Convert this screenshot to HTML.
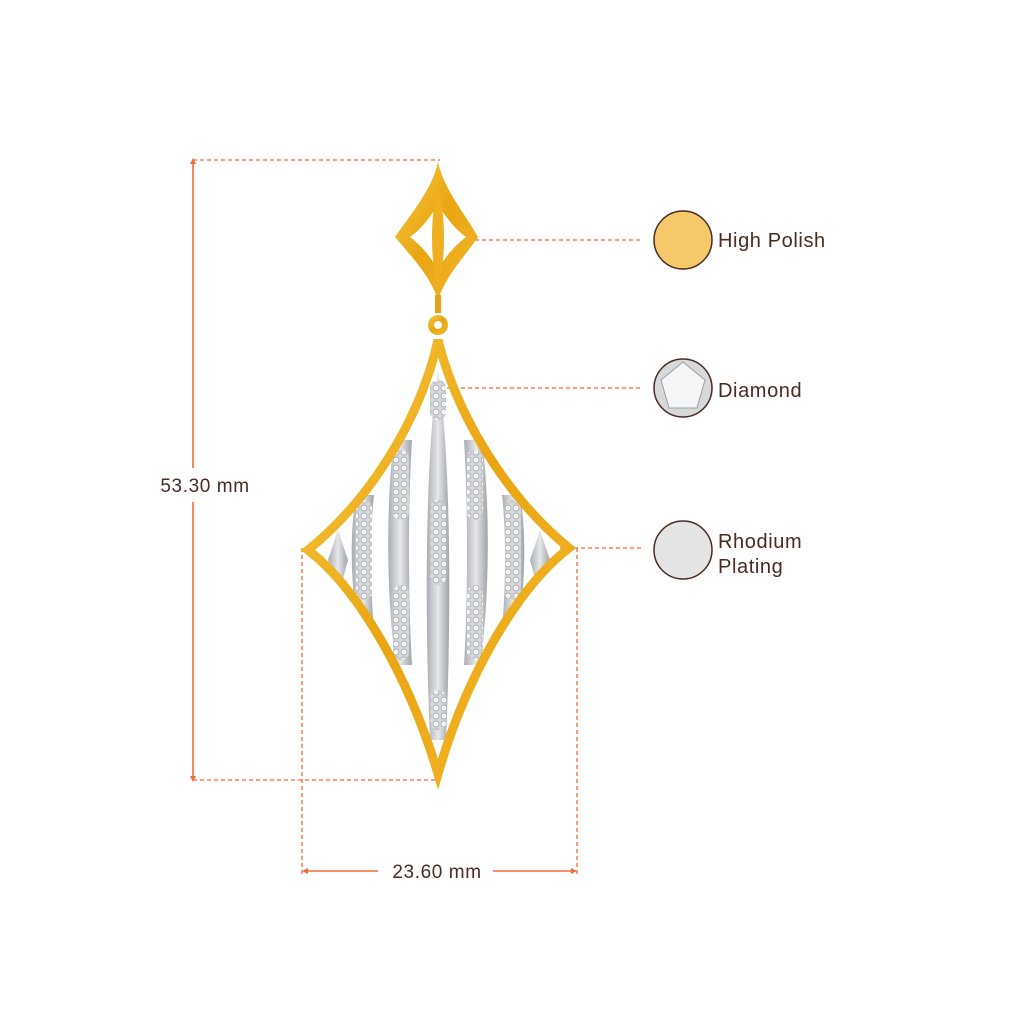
<!DOCTYPE html>
<html><head><style>
body{margin:0;background:#fff;}
svg{display:block}
text{font-family:"Liberation Sans",sans-serif;fill:#4a2a22;letter-spacing:0.6px}
</style></head><body>
<svg width="1024" height="1024" viewBox="0 0 1024 1024">
<defs>
<linearGradient id="g" x1="0" y1="0" x2="1" y2="1">
<stop offset="0" stop-color="#f7c940"/><stop offset="0.5" stop-color="#e9a512"/><stop offset="1" stop-color="#f4b82a"/>
</linearGradient>
<linearGradient id="s" x1="0" y1="0" x2="1" y2="0">
<stop offset="0" stop-color="#a9adb2"/><stop offset="0.5" stop-color="#e6e8ea"/><stop offset="1" stop-color="#9ea3a8"/>
</linearGradient>
<pattern id="d" width="8" height="8" patternUnits="userSpaceOnUse">
<rect width="8" height="8" fill="#d5d8db"/><circle cx="4" cy="4" r="3" fill="#f2f3f4" stroke="#9aa0a6" stroke-width="0.7"/>
</pattern>
<clipPath id="c"><path d="M438 340 C420 420 370 500 308 550 C360 590 410 680 438 774 C465 680 515 590 569 548 C510 500 458 420 438 340Z"/></clipPath>
</defs>
<!-- dimension lines -->
<g stroke="#f26b3a" stroke-width="1.3" fill="none" stroke-dasharray="4,3">
<line x1="193" y1="160" x2="440" y2="160"/>
<line x1="193" y1="780" x2="440" y2="780"/>
<line x1="302" y1="548" x2="302" y2="875"/>
<line x1="577" y1="548" x2="577" y2="875"/>
<line x1="440" y1="240" x2="643" y2="240"/>
<line x1="440" y1="388" x2="643" y2="388"/>
<line x1="560" y1="548" x2="643" y2="548"/>
</g>
<g stroke="#f26b3a" stroke-width="1.6">
<line x1="193" y1="162" x2="193" y2="468"/>
<line x1="193" y1="502" x2="193" y2="778"/>
<line x1="304" y1="871" x2="378" y2="871"/>
<line x1="493" y1="871" x2="575" y2="871"/>
</g>
<g fill="#f26b3a">
<path d="M193 158 l-3 6 h6z"/><path d="M193 782 l-3 -6 h6z"/>
<path d="M302 871 l6 -3 v6z"/><path d="M577 871 l-6 -3 v6z"/>
</g>
<text x="205" y="492" font-size="19" text-anchor="middle">53.30 mm</text>
<text x="437" y="878" font-size="19" text-anchor="middle">23.60 mm</text>
<!-- top piece -->
<path d="M438 162 C432 190 410 215 395 237 C410 255 430 275 438 300 C446 275 466 255 478 237 C466 215 444 190 438 162Z" fill="url(#g)"/>
<path d="M438 205 C428 220 420 230 410 237 C420 245 430 255 438 270 C446 255 456 245 466 237 C456 230 448 220 438 205Z" fill="#fff"/>
<path d="M438 185 C430 215 430 260 438 290 C446 260 446 215 438 185Z" fill="#eeb020"/>
<rect x="435" y="295" width="6" height="18" fill="#e3a316"/>
<circle cx="438" cy="325" r="10" fill="url(#g)"/><circle cx="438" cy="325" r="4" fill="#fff"/>
<g clip-path="url(#c)">
<g fill="url(#s)">
<path d="M438 370 C426 450 424 600 430 740 L446 740 C452 600 450 450 438 370Z"/>
<path d="M394 440 C386 500 386 600 396 665 L412 665 C408 600 408 500 412 440Z"/>
<path d="M482 440 C490 500 490 600 480 665 L464 665 C468 600 468 500 464 440Z"/>
<path d="M356 495 C350 530 350 580 358 632 L374 632 C370 580 370 530 374 495Z"/>
<path d="M520 495 C526 530 526 580 518 632 L502 632 C506 580 506 530 502 495Z"/>
<path d="M338 530 L328 560 L340 590 L348 560Z"/>
<path d="M540 530 L550 560 L538 590 L530 560Z"/>
</g>
<g fill="url(#d)">
<rect x="430" y="380" width="16" height="40" rx="8"/>
<rect x="430" y="500" width="16" height="85" rx="8"/>
<rect x="430" y="690" width="16" height="40" rx="8"/>
<rect x="393" y="450" width="16" height="70" rx="8"/>
<rect x="393" y="585" width="16" height="75" rx="8"/>
<rect x="467" y="450" width="16" height="70" rx="8"/>
<rect x="467" y="585" width="16" height="75" rx="8"/>
<rect x="356" y="500" width="16" height="100" rx="8"/>
<rect x="505" y="500" width="16" height="100" rx="8"/>
</g>
</g>
<!-- frame -->
<path d="M438 340 C420 420 370 500 308 550 C360 590 410 680 438 774 C465 680 515 590 569 548 C510 500 458 420 438 340Z" fill="none" stroke="url(#g)" stroke-width="9" stroke-linejoin="miter"/>
<!-- legend -->
<circle cx="683" cy="240" r="29" fill="#f5c96a" stroke="#4a2a22" stroke-width="1.5"/>
<circle cx="683" cy="388" r="29" fill="#d6d8da" stroke="#4a2a22" stroke-width="1.5"/>
<path d="M683 362 L705 380 L697 408 L669 408 L661 380Z" fill="#f4f5f6" stroke="#9a9ea2" stroke-width="1"/>
<circle cx="683" cy="550" r="29" fill="#e4e4e4" stroke="#4a2a22" stroke-width="1.5"/>
<text x="718" y="247" font-size="20">High Polish</text>
<text x="718" y="397" font-size="20">Diamond</text>
<text x="718" y="548" font-size="20">Rhodium</text>
<text x="718" y="573" font-size="20">Plating</text>
</svg>
</body></html>
